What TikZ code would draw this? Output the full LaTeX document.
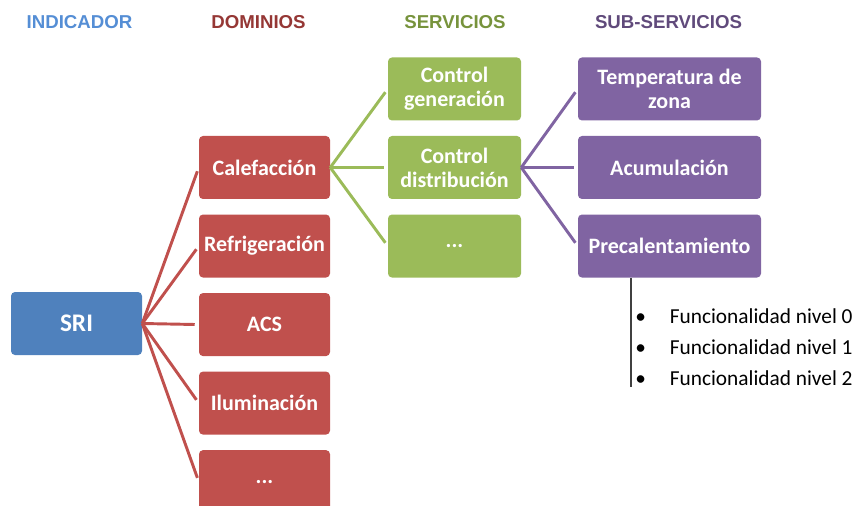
\documentclass[tikz,border=0pt]{standalone}
\usepackage{fontspec}
\setmainfont{Carlito}
\newfontfamily\hdrfont{Liberation Sans}
\usetikzlibrary{positioning}
\definecolor{cblue}{HTML}{4F81BD}
\definecolor{cred}{HTML}{C0504D}
\definecolor{cgreen}{HTML}{9BBB59}
\definecolor{cpurple}{HTML}{8064A2}
\definecolor{hblue}{HTML}{558ED5}
\definecolor{hred}{HTML}{953735}
\definecolor{hgreen}{HTML}{77933C}
\definecolor{hpurple}{HTML}{604A7B}
\definecolor{cgray}{HTML}{404040}
\tikzset{
  box/.style={rounded corners=3pt,minimum height=47.25pt,align=center,text=white,inner sep=2pt,font=\fontsize{16.5}{18}\selectfont\bfseries},
  ind/.style={box,fill=cblue,minimum width=98.25pt,font=\fontsize{19}{21}\selectfont\bfseries},
  dom/.style={box,fill=cred,minimum width=98.25pt},
  serv/.style={box,fill=cgreen,minimum width=99.75pt},
  sub/.style={box,fill=cpurple,minimum width=137.25pt},
  hdr/.style={font=\hdrfont\bfseries\fontsize{14}{16}\selectfont},
  rlnk/.style={draw=cred,line width=2.2pt,shorten >=3pt},
  glnk/.style={draw=cgreen,line width=2.2pt,shorten >=3pt},
  plnk/.style={draw=cpurple,line width=2.2pt,shorten >=3pt},
  item/.style={anchor=west,inner sep=0pt,font=\fontsize{16}{18}\selectfont},
}
\begin{document}
\begin{tikzpicture}[x=0.75pt,y=-0.75pt]
\clip (0,0) rectangle (857,506);
% column titles
\node[hdr,text=hblue] (h1) at (79.5,22) {INDICADOR};
\node[hdr,text=hred] (h2) at (258.5,22) {DOMINIOS};
\node[hdr,text=hgreen] (h3) at (455,22) {SERVICIOS};
\node[hdr,text=hpurple] (h4) at (668.5,22) {SUB-SERVICIOS};
% indicador
\node[ind] (sri) at (76.5,323.5) {SRI};
% dominios
\node[dom] (cal) at (264.5,167.5) {Calefacción};
\node[dom,below=11.25pt of cal] (ref) {Refrigeración};
\node[dom,below=11.25pt of ref] (acs) {ACS};
\node[dom,below=11.25pt of acs] (ilu) {Iluminación};
\node[dom,below=11.25pt of ilu] (dmore) {...};
% servicios
\node[serv] (cdis) at (454.5,167.5) {Control\\distribución};
\node[serv,above=11.25pt of cdis] (cgen) {Control\\generación};
\node[serv,below=11.25pt of cdis] (smore) {...};
% sub-servicios
\node[sub] (acu) at (669.5,167.5) {Acumulación};
\node[sub,above=11.25pt of acu] (tz) {Temperatura de\\zona};
\node[sub,below=11.25pt of acu] (pre) {Precalentamiento};
% conexiones
\foreach \d in {cal,ref,acs,ilu,dmore}
  \draw[rlnk] (sri.east) -- (\d.west);
\foreach \s in {cgen,cdis,smore}
  \draw[glnk] (cal.east) -- (\s.west);
\foreach \u in {tz,acu,pre}
  \draw[plnk] (cdis.east) -- (\u.west);
% funcionalidades
\coordinate (vtop) at ([xshift=-28.9pt]pre.south);
\draw[cgray,line width=1.1pt] (vtop) -- ++(0,109) coordinate (vbot);
\node[item] (f0) at (635,316) {\textbullet\hspace{18pt}Funcionalidad nivel 0};
\node[item] (f1) at (635,347) {\textbullet\hspace{18pt}Funcionalidad nivel 1};
\node[item] (f2) at (635,378) {\textbullet\hspace{18pt}Funcionalidad nivel 2};
\end{tikzpicture}
\end{document}
